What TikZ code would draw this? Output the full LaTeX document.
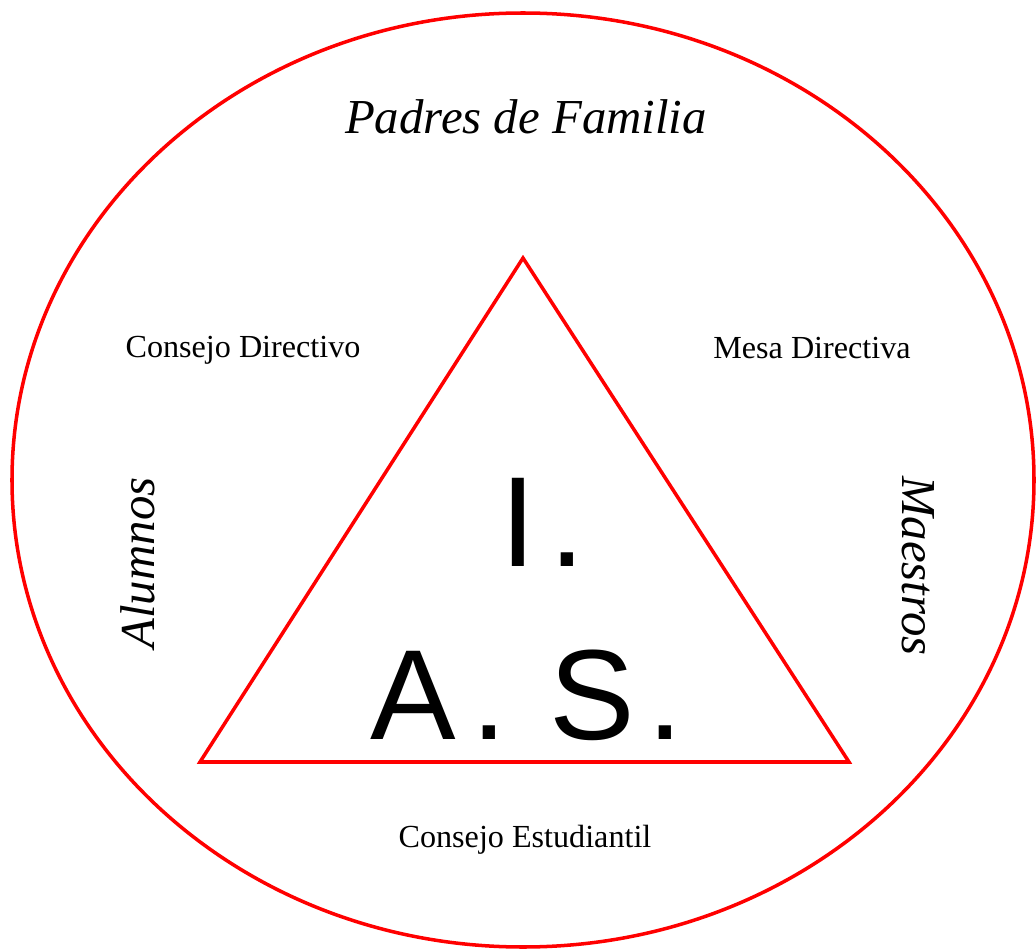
\documentclass[tikz,border=0pt]{standalone}
\usepackage{fontspec}
\setmainfont{Liberation Serif}
\newfontfamily\arialfont{Liberation Sans}
\usetikzlibrary{positioning}

\begin{document}
\begin{tikzpicture}[x=0.02cm, y=-0.02cm, line width=2pt,
  label/.style={anchor=base, inner sep=0pt, font=\fontsize{18.3}{22}\selectfont},
  big/.style={anchor=base, inner sep=0pt, font=\fontsize{27.8}{34}\selectfont\itshape},
  huge/.style={anchor=base, inner sep=0pt, font=\arialfont\fontsize{73}{88}\selectfont}]
\useasboundingbox (0,0) rectangle (1036,950);
\draw[red] (523,480) ellipse [x radius=511, y radius=467];
\coordinate (top) at (523,258);
\coordinate (left) at (200,762);
\coordinate (right) at (849,762);
\draw[red] (top) -- (right) -- (left) -- cycle;
\node (padres) [big] at (526,133) {Padres de Familia};
\node (alumnos) [big, rotate=90] at (154,563) {Alumnos};
\node (maestros) [big, rotate=-90] at (902,566) {Maestros};
\node (directivo) [label] at (243,357) {Consejo Directivo};
\node (mesa) [label] at (812,358) {Mesa Directiva};
\node (estudiantil) [label] at (525,847) {Consejo Estudiantil};
\node (i) [huge] at (543,566) {I\kern0.1em.};
\node (as) [huge] at (527,739) {A\kern0.12em.\hspace{0.33em}S\kern0.1em.};
\end{tikzpicture}
\end{document}
